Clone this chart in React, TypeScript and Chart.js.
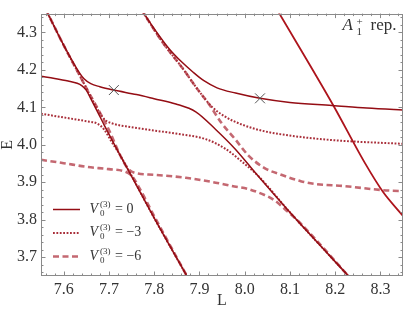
import React, { useEffect, useRef } from 'react';
import { Chart, registerables } from 'chart.js';

Chart.register(...registerables);

// ---- axes ----
const xRange = [7.55, 8.35];
const yRange = [3.65, 4.35];
const xTicks = [7.6, 7.7, 7.8, 7.9, 8.0, 8.1, 8.2, 8.3];
const yTicks = [3.7, 3.8, 3.9, 4.0, 4.1, 4.2, 4.3];

// ---- V0 = 0 (solid) ----
const solidA_L = [7.55, 7.58, 7.61, 7.63, 7.64, 7.65, 7.66, 7.675, 7.69, 7.725, 7.8, 7.877];
const solidA_E = [4.183, 4.177, 4.17, 4.164, 4.158, 4.146, 4.123, 4.088, 4.052, 3.972, 3.805, 3.64];
const solidB_L = [7.561, 7.6, 7.62, 7.635, 7.645, 7.66, 7.68, 7.711, 7.761, 7.8, 7.848, 7.892, 7.936, 7.979, 8.026, 8.1, 8.237];
const solidB_E = [4.36, 4.266, 4.222, 4.192, 4.176, 4.163, 4.155, 4.146, 4.134, 4.123, 4.109, 4.088, 4.041, 3.989, 3.922, 3.82, 3.64];
const solidC_L = [7.772, 7.8, 7.834, 7.86, 7.885, 7.91, 7.939, 7.98, 8.034, 8.1, 8.193, 8.27, 8.36];
const solidC_E = [4.36, 4.31, 4.255, 4.222, 4.195, 4.171, 4.152, 4.138, 4.124, 4.113, 4.105, 4.098, 4.092];
const freeD_L = [8.072, 8.197, 8.266, 8.306, 8.35, 8.36];
const freeD_E = [4.36, 4.103, 3.951, 3.874, 3.81, 3.795];

// ---- V0 = -3 (dotted) ----
const dotA_L = [7.55, 7.6, 7.65, 7.675, 7.69, 7.705, 7.725, 7.8, 7.877];
const dotA_E = [4.083, 4.073, 4.063, 4.056, 4.04, 4.01, 3.972, 3.805, 3.64];
const dotB_L = [7.561, 7.6, 7.65, 7.675, 7.69, 7.705, 7.75, 7.8, 7.848, 7.914, 7.958, 7.994, 8.03, 8.1, 8.237];
const dotB_E = [4.36, 4.266, 4.152, 4.095, 4.068, 4.058, 4.047, 4.038, 4.03, 4.015, 3.989, 3.955, 3.917, 3.82, 3.64];
const dotC_L = [7.772, 7.819, 7.863, 7.898, 7.928, 7.957, 7.994, 8.044, 8.11, 8.2, 8.36];
const dotC_E = [4.36, 4.273, 4.204, 4.145, 4.101, 4.075, 4.054, 4.036, 4.023, 4.012, 4.002];

// ---- V0 = -6 (dashed) ----
const dashA_L = [7.55, 7.6, 7.652, 7.7, 7.735, 7.75, 7.765, 7.8, 7.877];
const dashA_E = [3.96, 3.951, 3.941, 3.935, 3.929, 3.918, 3.89, 3.81, 3.64];
const dashB_L = [7.561, 7.6, 7.65, 7.7, 7.725, 7.74, 7.755, 7.8, 7.87, 7.936, 7.972, 8.008, 8.044, 8.066, 8.095, 8.117, 8.237];
const dashB_E = [4.36, 4.266, 4.152, 4.04, 3.972, 3.94, 3.926, 3.92, 3.912, 3.899, 3.89, 3.882, 3.866, 3.852, 3.822, 3.798, 3.64];
const dashC_L = [7.772, 7.819, 7.863, 7.896, 7.921, 7.949, 7.979, 8.008, 8.044, 8.081, 8.124, 8.153, 8.219, 8.306, 8.36];
const dashC_E = [4.36, 4.273, 4.204, 4.148, 4.109, 4.058, 4.015, 3.972, 3.938, 3.92, 3.903, 3.896, 3.89, 3.879, 3.876];

// ---- markers ----
const crossL = [7.711, 8.034];
const crossE = [4.146, 4.124];

// ---- legend ----
const legendValues = ['0', '\u22123', '\u22126'];

const SERIF = '"Liberation Serif", "DejaVu Serif", serif';
const SOLID = '#940d14';
const FREE = '#ad141c';
const DOT = '#a92f3a';
const DASH = 'rgba(190, 88, 98, 0.9)';
const AXIS = '#8a8a8a';
const TEXT = '#333333';

const pts = (L: number[], E: number[]) => L.map((x, i) => ({ x, y: E[i] }));

const lineDs = (label: string, L: number[], E: number[], color: string, width: number, dash: number[]) => ({
  label,
  data: pts(L, E),
  showLine: true,
  borderColor: color,
  borderWidth: width,
  borderDash: dash,
  borderCapStyle: 'butt',
  pointRadius: 0,
  cubicInterpolationMode: 'monotone',
  fill: false,
  clip: 0,
});

const styles = [
  { color: SOLID, width: 1.5, dash: [] as number[] },
  { color: DOT, width: 2, dash: [1.8, 1.6] },
  { color: DASH, width: 2.6, dash: [6, 3.5] },
];

const framePlugin = {
  id: 'frame',
  afterDraw(chart: any) {
    const ctx = chart.ctx;
    const { left, right, top, bottom } = chart.chartArea;
    const xs = chart.scales.x;
    const ys = chart.scales.y;
    ctx.save();
    ctx.setLineDash([]);
    ctx.strokeStyle = AXIS;
    ctx.lineWidth = 1;
    ctx.strokeRect(Math.round(left) + 0.5, Math.round(top) + 0.5, Math.round(right - left) - 1, Math.round(bottom - top) - 1);
    ctx.beginPath();
    for (let k = Math.ceil(xRange[0] * 50); k <= Math.floor(xRange[1] * 50); k++) {
      const px = Math.round(xs.getPixelForValue(k / 50)) + 0.5;
      const len = k % 5 === 0 ? 4.5 : 2.5;
      ctx.moveTo(px, bottom);
      ctx.lineTo(px, bottom - len);
      ctx.moveTo(px, top);
      ctx.lineTo(px, top + len);
    }
    for (let k = Math.ceil(yRange[0] * 50); k <= Math.floor(yRange[1] * 50); k++) {
      const py = Math.round(ys.getPixelForValue(k / 50)) + 0.5;
      const len = k % 5 === 0 ? 4.5 : 2.5;
      ctx.moveTo(left, py);
      ctx.lineTo(left + len, py);
      ctx.moveTo(right, py);
      ctx.lineTo(right - len, py);
    }
    ctx.stroke();

    // legend
    const rowY = [209.5, 233, 256.5];
    styles.forEach((st, i) => {
      ctx.beginPath();
      ctx.strokeStyle = st.color;
      ctx.lineWidth = st.width;
      ctx.setLineDash(st.dash);
      ctx.lineCap = 'butt';
      ctx.moveTo(53, rowY[i]);
      ctx.lineTo(80, rowY[i]);
      ctx.stroke();
      ctx.setLineDash([]);
      const base = rowY[i] + 3;
      ctx.fillStyle = TEXT;
      ctx.textBaseline = 'alphabetic';
      ctx.textAlign = 'left';
      ctx.font = 'italic 14px ' + SERIF;
      ctx.fillText('V', 89.5, base);
      ctx.font = '9px ' + SERIF;
      ctx.fillText('(3)', 100, base - 6);
      ctx.fillText('0', 100, base + 3);
      ctx.font = '14px ' + SERIF;
      ctx.fillText('= ' + legendValues[i], 115, base);
    });

    // annotation
    ctx.fillStyle = TEXT;
    ctx.font = 'italic 17px ' + SERIF;
    ctx.fillText('A', 342.5, 30);
    ctx.font = '11px ' + SERIF;
    ctx.fillText('+', 356.5, 25);
    ctx.fillText('1', 356.5, 35);
    ctx.font = '17px ' + SERIF;
    ctx.fillText('rep.', 370.5, 30);
    ctx.restore();
  },
};

export default function App() {
  const ref = useRef<HTMLCanvasElement>(null);
  useEffect(() => {
    document.body.style.margin = '0';
    const canvas = ref.current;
    if (!canvas) return;
    const datasets: any[] = [
      {
        label: 'crossings',
        data: pts(crossL, crossE),
        showLine: false,
        pointStyle: 'crossRot',
        pointRadius: 7,
        borderColor: '#555555',
        backgroundColor: '#555555',
        pointBorderWidth: 1,
        borderWidth: 1,
        clip: 0,
      },
      lineDs('V0=0 a', solidA_L, solidA_E, SOLID, 1.5, []),
      lineDs('V0=0 b', solidB_L, solidB_E, SOLID, 1.5, []),
      lineDs('V0=0 c', solidC_L, solidC_E, SOLID, 1.5, []),
      lineDs('free', freeD_L, freeD_E, FREE, 1.8, []),
      lineDs('V0=-3 a', dotA_L, dotA_E, DOT, 2, [1.8, 1.6]),
      lineDs('V0=-3 b', dotB_L, dotB_E, DOT, 2, [1.8, 1.6]),
      lineDs('V0=-3 c', dotC_L, dotC_E, DOT, 2, [1.8, 1.6]),
      lineDs('V0=-6 a', dashA_L, dashA_E, DASH, 2.6, [6, 3.5]),
      lineDs('V0=-6 b', dashB_L, dashB_E, DASH, 2.6, [6, 3.5]),
      lineDs('V0=-6 c', dashC_L, dashC_E, DASH, 2.6, [6, 3.5]),
    ];
    const chart = new Chart(canvas, {
      type: 'scatter',
      data: { datasets },
      options: {
        animation: false,
        responsive: false,
        devicePixelRatio: 1,
        layout: { padding: { left: 0, right: 3, top: 3, bottom: 0 } },
        plugins: { legend: { display: false }, tooltip: { enabled: false } },
        scales: {
          x: {
            type: 'linear',
            min: xRange[0],
            max: xRange[1],
            grid: { display: false, drawTicks: false },
            border: { display: false },
            ticks: {
              font: { family: SERIF, size: 16 },
              color: TEXT,
              padding: 4,
              maxRotation: 0,
              autoSkip: false,
              callback: (v: any) => Number(v).toFixed(1),
            },
            afterBuildTicks: (s: any) => {
              s.ticks = xTicks.map((v) => ({ value: v }));
            },
            afterFit: (s: any) => {
              s.height = 37;
            },
            title: {
              display: true,
              text: 'L',
              color: TEXT,
              font: { family: SERIF, size: 16, lineHeight: 1 },
              padding: { top: 0, bottom: 4 },
            },
          },
          y: {
            type: 'linear',
            min: yRange[0],
            max: yRange[1],
            grid: { display: false, drawTicks: false },
            border: { display: false },
            ticks: {
              font: { family: SERIF, size: 16 },
              color: TEXT,
              padding: 4,
              autoSkip: false,
              callback: (v: any) => Number(v).toFixed(1),
            },
            afterBuildTicks: (s: any) => {
              s.ticks = yTicks.map((v) => ({ value: v }));
            },
            afterFit: (s: any) => {
              s.width = 41;
            },
            title: {
              display: true,
              text: 'E',
              color: TEXT,
              font: { family: SERIF, size: 16, lineHeight: 1 },
              padding: { top: 0, bottom: 0 },
            },
          },
        },
      } as any,
      plugins: [framePlugin],
    });
    return () => chart.destroy();
  }, []);
  return (
    <div style={{ width: 411, height: 313 }}>
      <canvas ref={ref} width={411} height={313} style={{ display: 'block' }} />
    </div>
  );
}
